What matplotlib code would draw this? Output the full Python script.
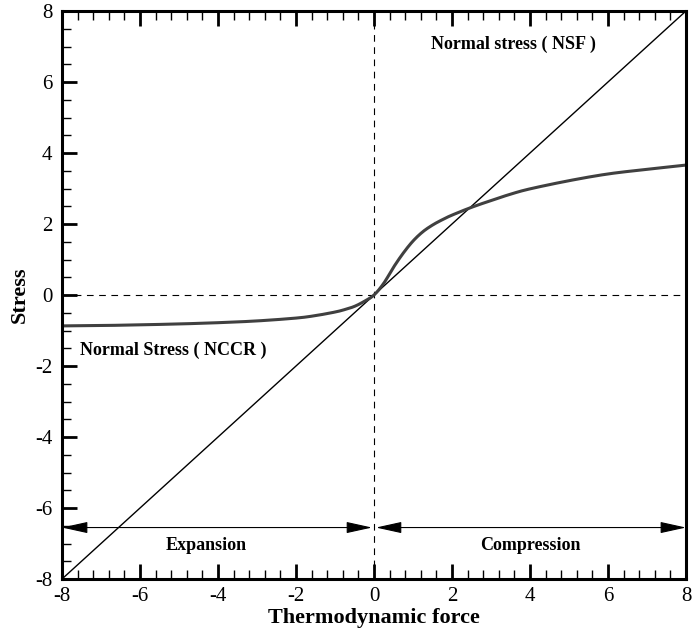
import numpy as np
import matplotlib
matplotlib.use("Agg")
import matplotlib.pyplot as plt
from matplotlib.ticker import MultipleLocator

# values
force = [-8, -7, -6, -5, -4, -3, -2, -1.5, -1, -0.75, -0.5, -0.25, 0,
         0.25, 0.5, 0.75, 1.0, 1.25, 1.5, 1.75, 2.0, 2.5, 3, 3.5, 4, 5, 6, 7, 8]
nccr = [-0.87, -0.86, -0.84, -0.815, -0.78, -0.73, -0.65, -0.58, -0.48, -0.41, -0.32, -0.18, 0,
        0.33, 0.78, 1.18, 1.52, 1.78, 1.97, 2.12, 2.25, 2.47, 2.66, 2.84, 2.99, 3.22, 3.41, 3.54, 3.66]
nsf_x = [-8, 8]
nsf_y = [-8, 8]

plt.rcParams['font.family'] = ['Liberation Serif', 'DejaVu Serif']
plt.rcParams['axes.unicode_minus'] = False


def smooth(x, y, n=20):
    "Catmull-Rom pass through the read points"
    x = np.asarray(x, float)
    y = np.asarray(y, float)
    px = np.concatenate([[2*x[0]-x[1]], x, [2*x[-1]-x[-2]]])
    py = np.concatenate([[2*y[0]-y[1]], y, [2*y[-1]-y[-2]]])
    xs, ys = [], []
    t = np.linspace(0, 1, n, endpoint=False)
    for i in range(1, len(px)-2):
        for arr, out in ((px, xs), (py, ys)):
            p0, p1, p2, p3 = arr[i-1], arr[i], arr[i+1], arr[i+2]
            out.extend(0.5*((2*p1) + (-p0+p2)*t + (2*p0-5*p1+4*p2-p3)*t**2
                            + (-p0+3*p1-3*p2+p3)*t**3))
    xs.append(x[-1])
    ys.append(y[-1])
    return np.array(xs), np.array(ys)


fig = plt.figure(figsize=(6.92, 6.36), dpi=100)
ax = fig.add_axes([0.0896, 0.0896, 0.9017, 0.8931])
ax.set_xlim(-8, 8)
ax.set_ylim(-8, 8)

ax.axhline(0, color='black', lw=0.8, ls=(0, (6, 5)))
ax.axvline(0, color='black', lw=0.8, ls=(0, (6, 5)))

ax.plot(nsf_x, nsf_y, color='black', lw=1.0)
sx, sy = smooth(force, nccr)
ax.plot(sx, sy, color='#404040', lw=2.2)

# expansion / compression arrows
arrow = dict(arrowstyle='<|-|>,head_length=1.0,head_width=0.22', color='black', lw=0.8,
             mutation_scale=16, shrinkA=0, shrinkB=0)
ax.annotate('', xy=(-8, -6.55), xytext=(-0.05, -6.55), arrowprops=arrow)
ax.annotate('', xy=(8, -6.55), xytext=(0.05, -6.55), arrowprops=arrow)

ax.text(-4.3, -7.05, 'Expansion', ha='center', va='center', fontsize=13, fontweight='bold')
ax.text(4.0, -7.05, 'Compression', ha='center', va='center', fontsize=13, fontweight='bold')
ax.text(1.45, 7.07, 'Normal stress ( NSF )', ha='left', va='center', fontsize=13, fontweight='bold')
ax.text(-7.55, -1.55, 'Normal Stress ( NCCR )', ha='left', va='center', fontsize=13, fontweight='bold')

ax.set_xlabel('Thermodynamic force', fontsize=16, fontweight='bold', labelpad=1)
ax.set_ylabel('Stress', fontsize=16, fontweight='bold', labelpad=4)

ax.xaxis.set_major_locator(MultipleLocator(2))
ax.xaxis.set_minor_locator(MultipleLocator(0.4))
ax.yaxis.set_major_locator(MultipleLocator(2))
ax.yaxis.set_minor_locator(MultipleLocator(0.5))
ax.tick_params(which='both', direction='in', top=True, right=False, labelsize=15)
ax.tick_params(which='major', length=11, width=2)
ax.tick_params(which='minor', length=6.5, width=1)
ax.tick_params(axis='x', pad=6)
ax.tick_params(axis='y', pad=7)
for s in ax.spines.values():
    s.set_linewidth(2.2)

fig.savefig('out.png', dpi=100)
